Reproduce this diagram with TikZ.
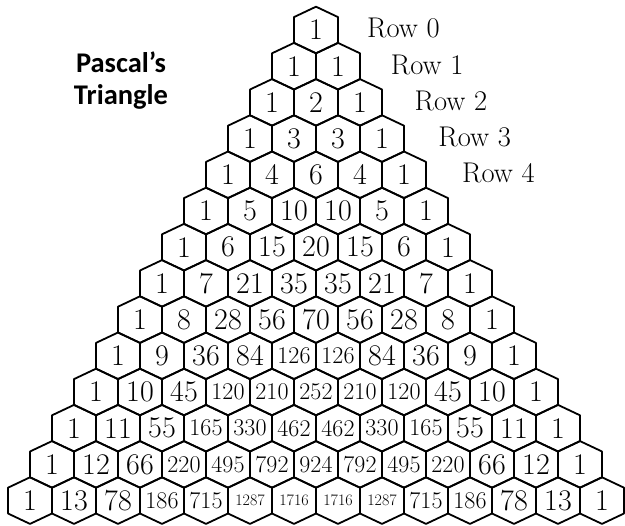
\documentclass[tikz,border=0pt]{standalone}
\usepackage{fontspec}
\newfontfamily\titlefont{Carlito}
\usetikzlibrary{calc,positioning}
\tikzset{
  % one cell of the honeycomb
  hexcell/.style={draw=black, line width=1.8pt, line join=round},
  % numbers in the cells, smaller when they have more digits
  numbig/.style={font=\fontsize{30}{30}\selectfont, inner sep=0pt},
  nummid/.style={font=\fontsize{24}{24}\selectfont, inner sep=0pt},
  numsmall/.style={font=\fontsize{16}{16}\selectfont, inner sep=0pt},
  % row labels at the right side
  rowlabel/.style={font=\fontsize{28.5}{28.5}\selectfont, anchor=base west, inner sep=0pt},
  % heading at the top left
  headline/.style={font=\titlefont\bfseries\fontsize{28.5}{32}\selectfont, align=center, inner sep=0pt},
}

\begin{document}
\begin{tikzpicture}[x=1pt, y=1pt]
\useasboundingbox (0,0) rectangle (625,-526);

\node[headline] (title) at (121,-80.5) {Pascal’s\\Triangle};

% =================== CELLS ===================
\foreach \vals [count=\r from 0] in {
  {1},
  {1,1},
  {1,2,1},
  {1,3,3,1},
  {1,4,6,4,1},
  {1,5,10,10,5,1},
  {1,6,15,20,15,6,1},
  {1,7,21,35,35,21,7,1},
  {1,8,28,56,70,56,28,8,1},
  {1,9,36,84,126,126,84,36,9,1},
  {1,10,45,120,210,252,210,120,45,10,1},
  {1,11,55,165,330,462,462,330,165,55,11,1},
  {1,12,66,220,495,792,924,792,495,220,66,12,1},
  {1,13,78,186,715,1287,1716,1716,1287,715,186,78,13,1}} {
  \foreach \v [count=\k from 0] in \vals {
    \ifnum\v<100 \def\numsty{numbig}\else\ifnum\v<1000 \def\numsty{nummid}\else\def\numsty{numsmall}\fi\fi
    \node[\numsty] (c-\r-\k) at ({316+(\k-\r/2)*44}, {-30-36.2*\r}) {\v};
    \draw[hexcell] (c-\r-\k.center) ++(0,23.3) -- ++(22,-10.4) -- ++(0,-25.8)
      -- ++(-22,-10.4) -- ++(-22,10.4) -- ++(0,25.8) -- cycle;
  }
}

% =================== ROW LABELS ===================
\foreach \r in {0,...,4}
  \node[rowlabel] (row\r) at ({367+23.75*\r}, {-38-36.25*\r}) {Row \r};

\end{tikzpicture}
\end{document}
